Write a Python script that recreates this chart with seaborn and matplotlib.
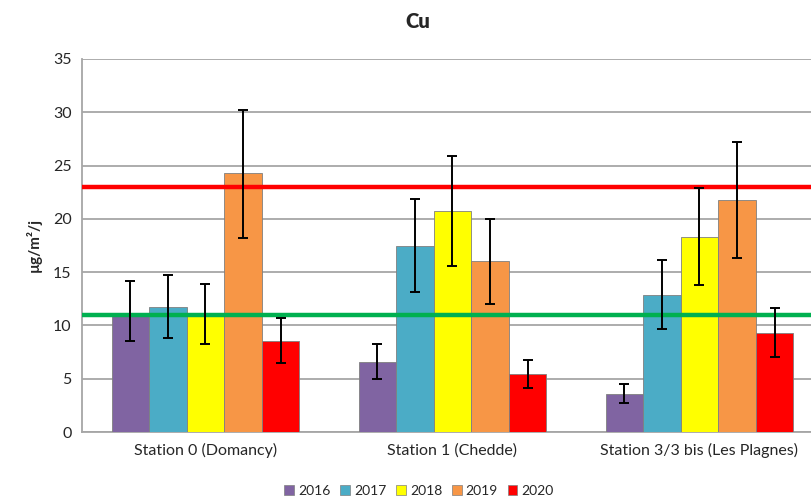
import pandas as pd
import numpy as np
import matplotlib
matplotlib.use("Agg")
import matplotlib.pyplot as plt
import seaborn as sns
from matplotlib.patches import Patch

# Values
stations = ["Station 0 (Domancy)", "Station 1 (Chedde)", "Station 3/3 bis (Les Plagnes)"]
years = ["2016", "2017", "2018", "2019", "2020"]
colors = ["#8064A2", "#4BACC6", "#FFFF00", "#F79646", "#FF0000"]

# rows = years, columns = stations
means = [
    [11.2, 6.6, 3.6],
    [11.7, 17.5, 12.9],
    [11.1, 20.7, 18.3],
    [24.3, 16.0, 21.8],
    [8.5, 5.4, 9.3],
]
err_low = [
    [8.5, 5.0, 2.7],
    [8.8, 13.1, 9.7],
    [8.3, 15.6, 13.8],
    [18.2, 12.0, 16.3],
    [6.5, 4.1, 7.0],
]
err_high = [
    [14.2, 8.3, 4.5],
    [14.7, 21.9, 16.1],
    [13.9, 25.9, 22.9],
    [30.2, 20.0, 27.2],
    [10.7, 6.8, 11.6],
]
limit_high = 23
limit_low = 11

rows = []
for i, yr in enumerate(years):
    for j, st in enumerate(stations):
        rows.append({"station": st, "year": yr, "value": means[i][j]})
df = pd.DataFrame(rows)

sns.set_style("white")
plt.rcParams['font.family'] = ['Lato', 'DejaVu Sans']

fig = plt.figure(figsize=(8.12, 5.0), dpi=100)
ax = fig.add_axes([82 / 812, 1 - 432 / 500, (812 - 82) / 812, (432 - 59) / 500])

sns.barplot(data=df, x="station", y="value", hue="year", palette=colors,
            width=0.76, saturation=1, errorbar=None, legend=False, ax=ax,
            edgecolor="#7f7f7f", linewidth=0.6, zorder=3)

# error bars on each bar
bar_groups = list(ax.containers)
for i, cont in enumerate(bar_groups):
    for j, bar in enumerate(cont.patches):
        xc = bar.get_x() + bar.get_width() / 2
        m = means[i][j]
        ax.errorbar(xc, m, yerr=[[m - err_low[i][j]], [err_high[i][j] - m]],
                    fmt="none", ecolor="black", elinewidth=1.4, capsize=3.5,
                    capthick=1.4, zorder=5)

ax.axhline(limit_high, color="#FF0000", lw=3.2, zorder=4)
ax.axhline(limit_low, color="#00B050", lw=3.2, zorder=4)

ax.set_ylim(0, 35)
ax.set_yticks(np.arange(0, 36, 5))
ax.set_xlim(-0.5, -0.5 + 730 / 247)
ax.yaxis.grid(True, color="#A6A6A6", lw=1.3, zorder=0)
ax.set_axisbelow(True)

for s in ["top", "right"]:
    ax.spines[s].set_visible(False)
for s in ["left", "bottom"]:
    ax.spines[s].set_color("#A6A6A6")
    ax.spines[s].set_linewidth(1.3)

ax.set_xticks([0.5, 1.5], minor=True)
ax.tick_params(axis="x", which="major", length=0, labelsize=11.5, pad=8)
ax.tick_params(axis="x", which="minor", length=5, color="#A6A6A6", width=1.3)
ax.tick_params(axis="y", length=4, color="#A6A6A6", width=1.3, labelsize=11.5)

ax.set_xlabel("")
ax.set_ylabel("µg/m²/j", fontsize=11, fontweight="bold", labelpad=8)
fig.text(418 / 812, 1 - 22 / 500, "Cu", ha="center", va="center",
         fontsize=14.5, fontweight="heavy")

handles = [Patch(facecolor=c, edgecolor="#7f7f7f", linewidth=0.5) for c in colors]
fig.legend(handles, years, loc="center", bbox_to_anchor=(419 / 812, 1 - 491 / 500),
           ncol=5, frameon=False, fontsize=10, handlelength=0.7, handleheight=0.7,
           handletextpad=0.3, columnspacing=0.7)

fig.savefig("out.png", dpi=100)
